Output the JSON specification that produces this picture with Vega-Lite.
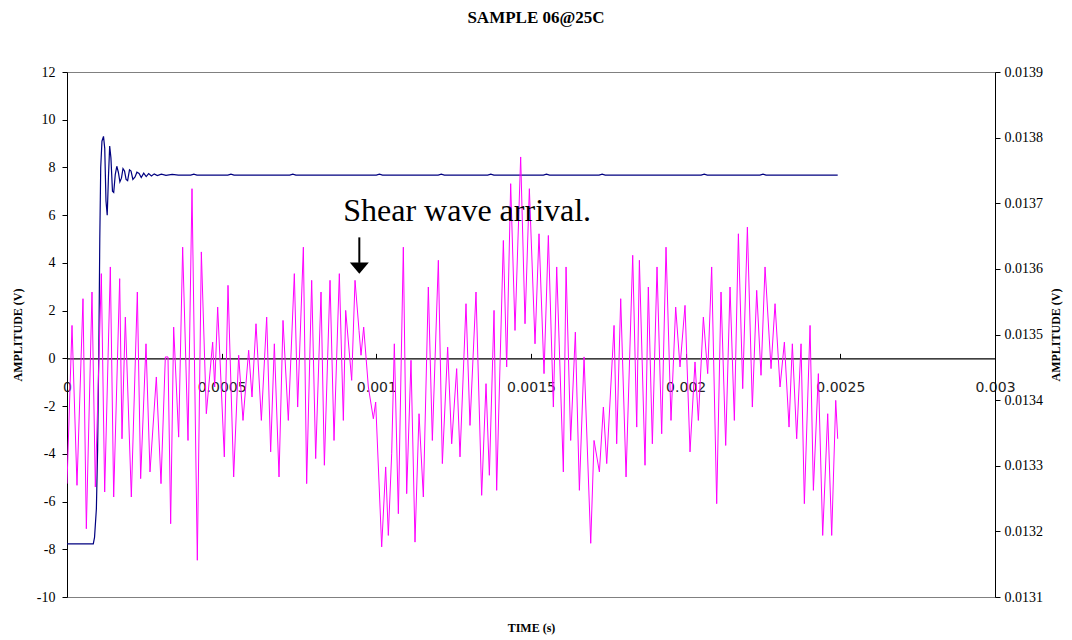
{
  "$schema": "https://vega.github.io/schema/vega-lite/v6.json",
  "width": 928,
  "height": 525,
  "autosize": "none",
  "padding": {"left": 67, "top": 72, "right": 77, "bottom": 43},
  "background": "white",
  "title": {"text": "SAMPLE 06@25C", "font": "Liberation Serif", "fontSize": 17, "fontWeight": "bold", "color": "black", "anchor": "middle", "offset": 38, "dx": 5},
  "config": {
    "view": {"stroke": "#808080", "strokeWidth": 1},
    "axis": {"grid": false}
  },
  "datasets": {
    "blue": [
      {"t": 0.0000000, "v": -7.77}, {"t": 0.0000850, "v": -7.77}, {"t": 0.0000890, "v": -7.5}, {"t": 0.0000950, "v": -6.3},
      {"t": 0.0000990, "v": -3.8}, {"t": 0.0001030, "v": 0.5}, {"t": 0.0001060, "v": 5.0}, {"t": 0.0001090, "v": 8.0},
      {"t": 0.0001130, "v": 9.1}, {"t": 0.0001180, "v": 9.3}, {"t": 0.0001220, "v": 8.8}, {"t": 0.0001260, "v": 6.6},
      {"t": 0.0001300, "v": 6.0}, {"t": 0.0001340, "v": 7.6}, {"t": 0.0001380, "v": 8.9}, {"t": 0.0001420, "v": 8.4},
      {"t": 0.0001470, "v": 7.0}, {"t": 0.0001510, "v": 6.95}, {"t": 0.0001560, "v": 7.7}, {"t": 0.0001610, "v": 8.05},
      {"t": 0.0001660, "v": 7.8}, {"t": 0.0001710, "v": 7.4}, {"t": 0.0001760, "v": 7.55}, {"t": 0.0001810, "v": 7.95},
      {"t": 0.0001860, "v": 7.85}, {"t": 0.0001910, "v": 7.5}, {"t": 0.0001960, "v": 7.45}, {"t": 0.0002020, "v": 7.9},
      {"t": 0.0002070, "v": 7.85}, {"t": 0.0002130, "v": 7.5}, {"t": 0.0002200, "v": 7.6}, {"t": 0.0002260, "v": 7.8},
      {"t": 0.0002330, "v": 7.75}, {"t": 0.0002400, "v": 7.58}, {"t": 0.0002480, "v": 7.76}, {"t": 0.0002560, "v": 7.62},
      {"t": 0.0002640, "v": 7.74}, {"t": 0.0002730, "v": 7.64}, {"t": 0.0002820, "v": 7.73}, {"t": 0.0002920, "v": 7.66},
      {"t": 0.0003050, "v": 7.72}, {"t": 0.0003200, "v": 7.67}, {"t": 0.0003400, "v": 7.71}, {"t": 0.0003600, "v": 7.68},
      {"t": 0.0004000, "v": 7.68}, {"t": 0.0004100, "v": 7.72}, {"t": 0.0004200, "v": 7.68}, {"t": 0.0005200, "v": 7.68},
      {"t": 0.0005300, "v": 7.72}, {"t": 0.0005400, "v": 7.68}, {"t": 0.0007200, "v": 7.68}, {"t": 0.0007300, "v": 7.72},
      {"t": 0.0007400, "v": 7.68}, {"t": 0.0010000, "v": 7.68}, {"t": 0.0010100, "v": 7.72}, {"t": 0.0010200, "v": 7.68},
      {"t": 0.0012000, "v": 7.68}, {"t": 0.0012100, "v": 7.72}, {"t": 0.0012200, "v": 7.68}, {"t": 0.0013600, "v": 7.68},
      {"t": 0.0013700, "v": 7.72}, {"t": 0.0013800, "v": 7.68}, {"t": 0.0015400, "v": 7.68}, {"t": 0.0015500, "v": 7.72},
      {"t": 0.0015600, "v": 7.68}, {"t": 0.0017200, "v": 7.68}, {"t": 0.0017300, "v": 7.72}, {"t": 0.0017400, "v": 7.68},
      {"t": 0.0020500, "v": 7.68}, {"t": 0.0020600, "v": 7.72}, {"t": 0.0020700, "v": 7.68}, {"t": 0.0022400, "v": 7.68},
      {"t": 0.0022500, "v": 7.72}, {"t": 0.0022600, "v": 7.68}, {"t": 0.0024915, "v": 7.68}
    ],
    "magenta": [
      {"t": 0.0000000, "v": -5.25}, {"t": 0.0000162, "v": 1.38}, {"t": 0.0000323, "v": -5.32}, {"t": 0.0000517, "v": 2.50},
      {"t": 0.0000625, "v": -7.14}, {"t": 0.0000808, "v": 2.78}, {"t": 0.0000916, "v": -5.39}, {"t": 0.0001110, "v": 3.55},
      {"t": 0.0001218, "v": -5.60}, {"t": 0.0001401, "v": 3.83}, {"t": 0.0001509, "v": -5.81}, {"t": 0.0001703, "v": 3.34},
      {"t": 0.0001778, "v": -3.37}, {"t": 0.0001886, "v": 1.73}, {"t": 0.0002080, "v": -5.81}, {"t": 0.0002274, "v": 2.78},
      {"t": 0.0002381, "v": -5.04}, {"t": 0.0002554, "v": 0.61}, {"t": 0.0002683, "v": -4.76}, {"t": 0.0002888, "v": -0.78},
      {"t": 0.0003039, "v": -5.25}, {"t": 0.0003179, "v": 0.06}, {"t": 0.0003265, "v": 0.06}, {"t": 0.0003351, "v": -6.93},
      {"t": 0.0003448, "v": 1.31}, {"t": 0.0003610, "v": -3.30}, {"t": 0.0003739, "v": 4.66}, {"t": 0.0003912, "v": -3.44},
      {"t": 0.0004041, "v": 7.11}, {"t": 0.0004213, "v": -8.46}, {"t": 0.0004343, "v": 4.46}, {"t": 0.0004504, "v": -2.32},
      {"t": 0.0004709, "v": 0.68}, {"t": 0.0004774, "v": -1.20}, {"t": 0.0004871, "v": 2.15}, {"t": 0.0005086, "v": -4.13},
      {"t": 0.0005205, "v": 3.06}, {"t": 0.0005388, "v": -4.97}, {"t": 0.0005550, "v": 0.13}, {"t": 0.0005690, "v": -2.60},
      {"t": 0.0005873, "v": 0.34}, {"t": 0.0005981, "v": -1.62}, {"t": 0.0006110, "v": 1.45}, {"t": 0.0006283, "v": -2.60},
      {"t": 0.0006455, "v": 1.73}, {"t": 0.0006584, "v": -3.92}, {"t": 0.0006703, "v": 0.61}, {"t": 0.0006854, "v": -4.97},
      {"t": 0.0006983, "v": 1.59}, {"t": 0.0007155, "v": -2.60}, {"t": 0.0007349, "v": 3.55}, {"t": 0.0007457, "v": -2.04},
      {"t": 0.0007641, "v": 4.66}, {"t": 0.0007748, "v": -5.25}, {"t": 0.0007910, "v": 3.27}, {"t": 0.0008039, "v": -4.20},
      {"t": 0.0008212, "v": 2.78}, {"t": 0.0008320, "v": -4.48}, {"t": 0.0008503, "v": 3.27}, {"t": 0.0008632, "v": -3.44},
      {"t": 0.0008804, "v": 3.55}, {"t": 0.0008934, "v": -2.60}, {"t": 0.0009009, "v": 2.01}, {"t": 0.0009203, "v": -0.92},
      {"t": 0.0009311, "v": 3.27}, {"t": 0.0009440, "v": 1.17}, {"t": 0.0009505, "v": 0.13}, {"t": 0.0009591, "v": 1.31},
      {"t": 0.0009742, "v": -1.20}, {"t": 0.0009904, "v": -2.53}, {"t": 0.0009979, "v": -1.83}, {"t": 0.0010173, "v": -7.90},
      {"t": 0.0010302, "v": -4.55}, {"t": 0.0010388, "v": -7.42}, {"t": 0.0010496, "v": -4.00}, {"t": 0.0010582, "v": 0.61},
      {"t": 0.0010712, "v": -6.51}, {"t": 0.0010873, "v": 4.66}, {"t": 0.0010981, "v": -5.67}, {"t": 0.0011121, "v": -0.08},
      {"t": 0.0011250, "v": -7.70}, {"t": 0.0011380, "v": -2.32}, {"t": 0.0011520, "v": -5.81}, {"t": 0.0011681, "v": 2.99},
      {"t": 0.0011811, "v": -3.44}, {"t": 0.0012005, "v": 4.11}, {"t": 0.0012134, "v": -4.41}, {"t": 0.0012306, "v": 0.47},
      {"t": 0.0012436, "v": -3.58}, {"t": 0.0012597, "v": -0.43}, {"t": 0.0012705, "v": -4.13}, {"t": 0.0012899, "v": 2.29},
      {"t": 0.0013028, "v": -2.81}, {"t": 0.0013222, "v": 2.78}, {"t": 0.0013405, "v": -5.74}, {"t": 0.0013546, "v": -1.06},
      {"t": 0.0013654, "v": -4.90}, {"t": 0.0013805, "v": 2.01}, {"t": 0.0013890, "v": -5.53}, {"t": 0.0014106, "v": 4.94},
      {"t": 0.0014214, "v": -0.36}, {"t": 0.0014343, "v": 7.32}, {"t": 0.0014483, "v": 1.17}, {"t": 0.0014666, "v": 8.44},
      {"t": 0.0014807, "v": 1.45}, {"t": 0.0014947, "v": 7.11}, {"t": 0.0015130, "v": 0.61}, {"t": 0.0015259, "v": 5.22},
      {"t": 0.0015421, "v": -0.64}, {"t": 0.0015561, "v": 5.15}, {"t": 0.0015723, "v": -2.04}, {"t": 0.0015831, "v": 3.83},
      {"t": 0.0016046, "v": -4.76}, {"t": 0.0016133, "v": 3.83}, {"t": 0.0016283, "v": -3.44}, {"t": 0.0016434, "v": 1.10},
      {"t": 0.0016564, "v": -5.53}, {"t": 0.0016715, "v": 0.06}, {"t": 0.0016931, "v": -7.75}, {"t": 0.0017038, "v": -3.44},
      {"t": 0.0017211, "v": -4.76}, {"t": 0.0017340, "v": -2.04}, {"t": 0.0017448, "v": -4.41}, {"t": 0.0017685, "v": 1.38},
      {"t": 0.0017770, "v": -3.58}, {"t": 0.0017900, "v": 2.50}, {"t": 0.0018073, "v": -4.97}, {"t": 0.0018288, "v": 4.32},
      {"t": 0.0018418, "v": -2.88}, {"t": 0.0018504, "v": 4.11}, {"t": 0.0018686, "v": -4.48}, {"t": 0.0018793, "v": 2.99},
      {"t": 0.0018923, "v": -3.58}, {"t": 0.0019074, "v": 3.83}, {"t": 0.0019225, "v": -3.16}, {"t": 0.0019365, "v": 4.66},
      {"t": 0.0019526, "v": -2.60}, {"t": 0.0019677, "v": 2.15}, {"t": 0.0019817, "v": -0.36}, {"t": 0.0019979, "v": 2.22},
      {"t": 0.0020141, "v": -3.92}, {"t": 0.0020302, "v": -0.15}, {"t": 0.0020410, "v": -2.60}, {"t": 0.0020572, "v": 1.73},
      {"t": 0.0020712, "v": -0.64}, {"t": 0.0020841, "v": 3.83}, {"t": 0.0021003, "v": -6.09}, {"t": 0.0021143, "v": 2.78},
      {"t": 0.0021294, "v": -3.65}, {"t": 0.0021434, "v": 2.99}, {"t": 0.0021574, "v": -2.60}, {"t": 0.0021704, "v": 5.22},
      {"t": 0.0021844, "v": -1.27}, {"t": 0.0021995, "v": 5.50}, {"t": 0.0022156, "v": -2.04}, {"t": 0.0022296, "v": 2.85},
      {"t": 0.0022436, "v": -0.71}, {"t": 0.0022566, "v": 3.83}, {"t": 0.0022760, "v": -0.43}, {"t": 0.0022889, "v": 2.29},
      {"t": 0.0023051, "v": -1.20}, {"t": 0.0023191, "v": 0.68}, {"t": 0.0023342, "v": -2.88}, {"t": 0.0023449, "v": 0.61},
      {"t": 0.0023589, "v": -3.37}, {"t": 0.0023730, "v": 0.61}, {"t": 0.0023837, "v": -6.09}, {"t": 0.0024021, "v": 1.38},
      {"t": 0.0024129, "v": -5.53}, {"t": 0.0024290, "v": -0.64}, {"t": 0.0024430, "v": -7.42}, {"t": 0.0024592, "v": -2.32},
      {"t": 0.0024721, "v": -7.42}, {"t": 0.0024851, "v": -1.76}, {"t": 0.0024915, "v": -3.37}
    ],
    "note": [{"t": 0.000893, "v": 5.77, "label": "Shear wave arrival."}],
    "shaft": [{"t": 0.000945, "v": 5.07, "v2": 4.0}],
    "head": [{"t": 0.000945, "v": 3.78}],
    "right": [{"r": 0.0135}]
  },
  "layer": [
    {
      "layer": [
        {
          "data": {"name": "blue"},
          "mark": {"type": "line", "color": "#000080", "strokeWidth": 1.2, "clip": true},
          "encoding": {
            "x": {
              "field": "t", "type": "quantitative",
              "scale": {"domain": [0, 0.003], "nice": false, "zero": false},
              "axis": {
                "values": [0, 0.0005, 0.001, 0.0015, 0.002, 0.0025, 0.003],
                "format": "~g", "offset": -238.64,
                "domainColor": "black", "domainWidth": 1.2,
                "ticks": true, "tickColor": "black", "tickSize": -5, "tickWidth": 1,
                "labelPadding": 27, "labelFont": "DejaVu Sans", "labelFontSize": 14, "labelColor": "#222222",
                "labelFlush": false, "labelOverlap": false,
                "title": "TIME (s)", "titleFont": "Liberation Serif", "titleFontSize": 12, "titleFontWeight": "bold",
                "titleColor": "black", "titlePadding": 228
              }
            },
            "y": {
              "field": "v", "type": "quantitative",
              "scale": {"domain": [-10, 12], "nice": false, "zero": false},
              "axis": {
                "values": [-10, -8, -6, -4, -2, 0, 2, 4, 6, 8, 10, 12],
                "labelExpr": "datum.value + ''",
                "domainColor": "black", "domainWidth": 1,
                "tickColor": "black", "tickSize": 5,
                "labelPadding": 7, "labelFont": "Liberation Serif", "labelFontSize": 14, "labelColor": "black",
                "title": "AMPLITUDE (V)", "titleFont": "Liberation Serif", "titleFontSize": 12, "titleFontWeight": "bold",
                "titleColor": "black", "titlePadding": 12
              }
            }
          }
        },
        {
          "data": {"name": "magenta"},
          "mark": {"type": "line", "color": "#FF00FF", "strokeWidth": 1, "clip": true},
          "encoding": {
            "x": {"field": "t", "type": "quantitative"},
            "y": {"field": "v", "type": "quantitative"}
          }
        },
        {
          "data": {"name": "note"},
          "mark": {"type": "text", "font": "Liberation Serif", "fontSize": 32, "align": "left", "baseline": "alphabetic", "color": "black"},
          "encoding": {
            "x": {"field": "t", "type": "quantitative"},
            "y": {"field": "v", "type": "quantitative"},
            "text": {"field": "label"}
          }
        },
        {
          "data": {"name": "shaft"},
          "mark": {"type": "rule", "color": "black", "strokeWidth": 2},
          "encoding": {
            "x": {"field": "t", "type": "quantitative"},
            "y": {"field": "v", "type": "quantitative"},
            "y2": {"field": "v2"}
          }
        },
        {
          "data": {"name": "head"},
          "mark": {"type": "point", "shape": "M-1,-0.6L0,0.6L1,-0.6Z", "filled": true, "color": "black", "opacity": 1, "size": 361, "strokeWidth": 0},
          "encoding": {
            "x": {"field": "t", "type": "quantitative"},
            "y": {"field": "v", "type": "quantitative"}
          }
        }
      ]
    },
    {
      "data": {"name": "right"},
      "mark": {"type": "rule", "opacity": 0},
      "encoding": {
        "y": {
          "field": "r", "type": "quantitative",
          "scale": {"domain": [0.0131, 0.0139], "nice": false, "zero": false},
          "axis": {
            "orient": "right",
            "values": [0.0131, 0.0132, 0.0133, 0.0134, 0.0135, 0.0136, 0.0137, 0.0138, 0.0139],
            "format": "~g",
            "domainColor": "black", "domainWidth": 1,
            "tickColor": "black", "tickSize": 5,
            "labelPadding": 4, "labelFont": "Liberation Serif", "labelFontSize": 14, "labelColor": "black",
            "title": "AMPLITUDE (V)", "titleFont": "Liberation Serif", "titleFontSize": 12, "titleFontWeight": "bold",
            "titleColor": "black", "titlePadding": 20, "titleAngle": 270
          }
        }
      }
    }
  ],
  "resolve": {"scale": {"y": "independent"}}
}
